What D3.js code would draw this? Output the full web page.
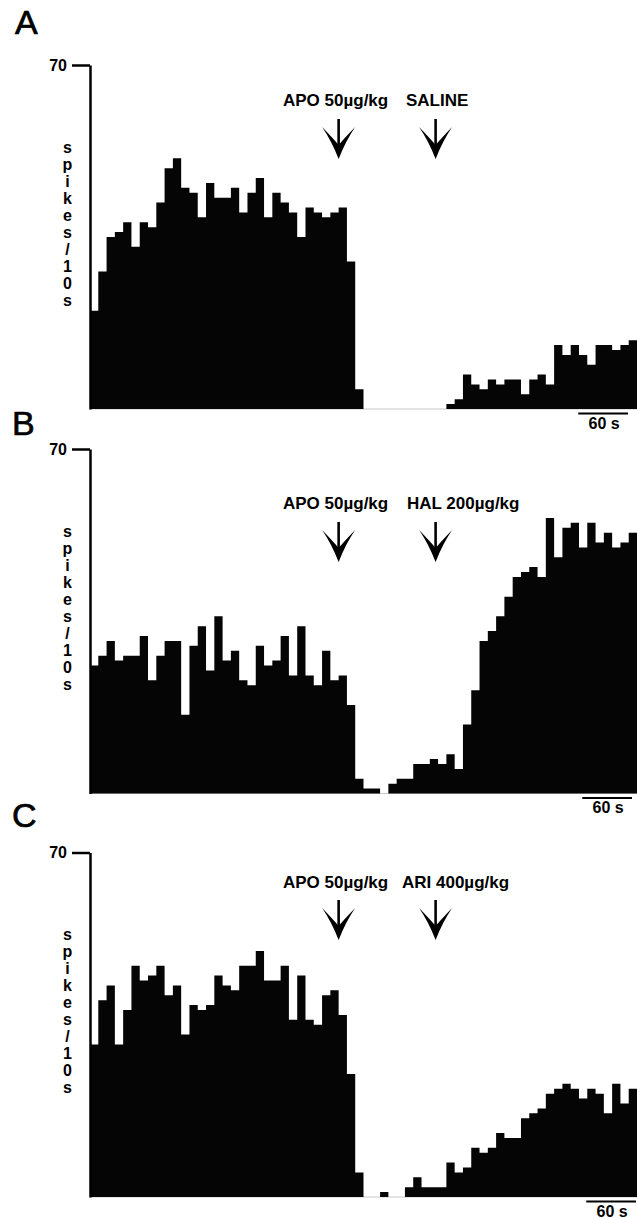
<!DOCTYPE html>
<html lang="en">
<head>
    <meta charset="UTF-8">
    <title>Spikes / 10 s histograms</title>
    <script src="https://d3js.org/d3.v7.min.js"></script>
    <style>
        body {
            margin: 0;
            background-color: #fff;
            font-family: "Liberation Sans", Arial, sans-serif;
        }
        svg text {
            fill: #000;
        }
        .bold {
            font-weight: bold;
            font-size: 16px;
        }
        .drug {
            font-weight: bold;
            font-size: 17px;
        }
        .panel-letter {
            font-size: 34px;
            stroke: #000;
            stroke-width: 0.7px;
        }
        .axis path, .axis line {
            stroke: #000;
            stroke-width: 2.5;
        }
        .axis text {
            font-family: "Liberation Sans", Arial, sans-serif;
            font-weight: bold;
            font-size: 16px;
        }
    </style>
</head>
<body>
    <script>
        // Data: spikes per 10 s bin, 66 bins per recording
        const binSeconds = 10;
        const yMax = 70;
        const panelLabels = ["A", "B", "C"];
        const firstDrug = ["APO 50µg/kg", "APO 50µg/kg", "APO 50µg/kg"];
        const secondDrug = ["SALINE", "HAL 200µg/kg", "ARI 400µg/kg"];
        const yLabel = "spikes/10s";
        const scaleLabel = "60 s";

        const valuesA = [20, 28, 35, 36, 38, 33, 38, 37, 42, 49, 51, 45, 44, 39, 46, 43, 43,
            45, 40, 44, 47, 39, 44, 42, 40, 35, 41, 40, 39, 40, 41, 30, 4,
            0, 0, 0, 0, 0, 0, 0, 0, 0, 0,
            1, 2, 7, 5, 4, 6, 5, 6, 6, 3, 6, 7, 5, 13, 11, 13, 11, 9, 13, 13, 12, 13, 14];
        const valuesB = [26, 28, 31, 27, 28, 28, 32, 23, 28, 31, 31, 16, 30, 34, 25, 36, 27,
            29, 23, 22, 30, 26, 27, 32, 24, 34, 24, 22, 29, 23, 24, 18, 3,
            1, 1, 0, 2, 3, 3, 6, 6, 7, 6, 8, 5, 14, 21, 31, 33, 36, 40, 44, 45, 46, 44,
            56, 48, 54, 55, 50, 55, 51, 53, 50, 51, 53];
        const valuesC = [31, 40, 43, 31, 38, 47, 44, 45, 47, 41, 43, 33, 39, 38, 39, 45, 43,
            42, 47, 47, 50, 44, 44, 47, 36, 45, 36, 35, 41, 42, 37, 25, 5,
            0, 0, 1, 0, 0, 2, 4, 2, 2, 2, 7, 5, 6, 10, 9, 10, 13, 12, 12, 16, 17, 18,
            21, 22, 23, 22, 20, 22, 21, 17, 23, 19, 22];
        const panelValues = [valuesA, valuesB, valuesC];

        // injection times (s from start of recording)
        const firstInjection = 300;
        const secondInjection = 417;

        // Layout (pixels)
        const width = 637, height = 1218;
        const layout = [
            { top: 65,  base: 409,  lx: 15, ly: 34,  textY: 106, text2X: 406, arrowTop: 119, sbRight: 628 },
            { top: 449, base: 793.5, lx: 12, ly: 435, textY: 509, text2X: 407, arrowTop: 522, sbRight: 632 },
            { top: 852.5, base: 1197, lx: 12, ly: 827, textY: 888, text2X: 402, arrowTop: 900, sbRight: 636 }
        ];

        const svg = d3.select("body")
            .append("svg")
            .attr("width", width)
            .attr("height", height);

        const nBins = valuesA.length;
        const x = d3.scaleLinear()
            .domain([0, nBins * binSeconds])
            .range([90, 637]);

        // filled dart arrow head, tip at (0, 40)
        const arrowHead = "M-16.5,8 Q-7,22 0,40 Q7,22 16.5,8 Q5,20 0,26 Q-5,20 -16.5,8 Z";

        panelValues.forEach((values, p) => {
            const L = layout[p];
            const y = d3.scaleLinear()
                .domain([0, yMax])
                .range([L.base, L.top]);

            const g = svg.append("g");

            // baseline
            g.append("line")
                .attr("x1", x(0))
                .attr("x2", x(nBins * binSeconds))
                .attr("y1", y(0))
                .attr("y2", y(0))
                .style("stroke", "#c8c8c8")
                .style("stroke-width", 1.2);

            // histogram as a stepped area
            const pts = values.map((v, i) => ({ t: i * binSeconds, v: v }));
            pts.push({ t: nBins * binSeconds, v: values[values.length - 1] });

            const area = d3.area()
                .x(d => x(d.t))
                .y0(y(0))
                .y1(d => y(d.v))
                .curve(d3.curveStepAfter);

            g.append("path")
                .datum(pts)
                .attr("d", area)
                .style("fill", "#050505");

            // y axis with single tick at 70
            g.append("g")
                .attr("class", "axis")
                .attr("transform", `translate(${x(0)},0)`)
                .call(d3.axisLeft(y).tickValues([yMax]).tickSize(18).tickSizeOuter(0).tickPadding(5));

            // stacked y label letters
            yLabel.split("").forEach((ch, i) => {
                g.append("text")
                    .attr("class", "bold")
                    .attr("x", 67.5)
                    .attr("y", L.top + 87.7 + i * 17)
                    .attr("text-anchor", "middle")
                    .text(ch);
            });

            // panel letter
            g.append("text")
                .attr("class", "panel-letter")
                .attr("x", L.lx)
                .attr("y", L.ly)
                .text(panelLabels[p]);

            // injection labels
            g.append("text")
                .attr("class", "drug")
                .attr("x", 283)
                .attr("y", L.textY)
                .text(firstDrug[p]);
            g.append("text")
                .attr("class", "drug")
                .attr("x", L.text2X)
                .attr("y", L.textY)
                .text(secondDrug[p]);

            // injection arrows
            [firstInjection, secondInjection].forEach(t => {
                const a = g.append("g")
                    .attr("transform", `translate(${x(t)},${L.arrowTop})`);
                a.append("line")
                    .attr("x1", 0).attr("x2", 0)
                    .attr("y1", 0).attr("y2", 30)
                    .style("stroke", "#000")
                    .style("stroke-width", 2.6);
                a.append("path")
                    .attr("d", arrowHead)
                    .style("fill", "#000");
            });

            // 60 s scale bar
            const sbLen = x(60) - x(0);
            g.append("line")
                .attr("x1", L.sbRight - sbLen)
                .attr("x2", L.sbRight)
                .attr("y1", L.base + 4.5)
                .attr("y2", L.base + 4.5)
                .style("stroke", "#000")
                .style("stroke-width", 2);
            g.append("text")
                .attr("class", "bold")
                .attr("x", L.sbRight - sbLen / 2 + 1)
                .attr("y", L.base + 19.5)
                .attr("text-anchor", "middle")
                .text(scaleLabel);
        });
    </script>
</body>
</html>
